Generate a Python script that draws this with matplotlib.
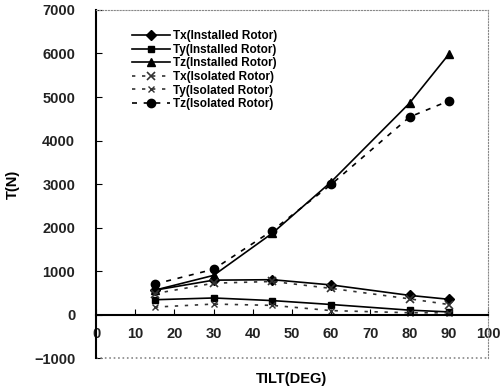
import matplotlib
matplotlib.use("Agg")
import matplotlib.pyplot as plt

tilt = [15, 30, 45, 60, 80, 90]
tx_inst = [560, 790, 800, 680, 440, 350]
ty_inst = [340, 380, 320, 230, 100, 60]
tz_inst = [560, 900, 1870, 3050, 4860, 5980]
tx_iso = [480, 720, 760, 600, 360, 230]
ty_iso = [170, 240, 210, 90, 40, 40]
tz_iso = [700, 1040, 1930, 2990, 4540, 4910]

xticks = [0, 10, 20, 30, 40, 50, 60, 70, 80, 90, 100]
yticks = [-1000, 0, 1000, 2000, 3000, 4000, 5000, 6000, 7000]

plt.rcParams['font.family'] = ['Liberation Sans', 'DejaVu Sans']

fig = plt.figure(figsize=(5.03, 3.92), dpi=100)
ax = fig.add_axes([0.191, 0.0867, 0.779, 0.8878])

ax.plot(tilt, tx_inst, '-', color='black', lw=1.2, marker='D', ms=5, label='Tx(Installed Rotor)')
ax.plot(tilt, ty_inst, '-', color='black', lw=1.2, marker='s', ms=5, label='Ty(Installed Rotor)')
ax.plot(tilt, tz_inst, '-', color='black', lw=1.2, marker='^', ms=6, label='Tz(Installed Rotor)')
ax.plot(tilt, tx_iso, linestyle=(0, (2, 4)), color='#333333', lw=1.2, marker='x', ms=6, mew=1.2, label='Tx(Isolated Rotor)')
ax.plot(tilt, ty_iso, linestyle=(0, (2, 4)), color='#333333', lw=1.2, marker='x', ms=5, mew=1.0, label='Ty(Isolated Rotor)')
ax.plot(tilt, tz_iso, linestyle=(0, (3, 4)), color='black', lw=1.2, marker='o', ms=6, label='Tz(Isolated Rotor)')

ax.set_xlim(0, 100)
ax.set_ylim(-1000, 7000)
ax.set_xticks(xticks)
ax.set_yticks(yticks)
ax.set_xticklabels([str(v) for v in xticks])
ax.set_yticklabels([('\u2212' + str(-v)) if v < 0 else str(v) for v in yticks])

ax.spines['bottom'].set_position(('data', 0))
ax.spines['bottom'].set_linewidth(1.5)
ax.spines['left'].set_linewidth(1.5)
for s in ['top', 'right']:
    ax.spines[s].set_linestyle(':')
    ax.spines[s].set_color('#888888')
    ax.spines[s].set_linewidth(0.8)
ax.axhline(-1000, color='#888888', lw=1.2, ls=':', clip_on=False)

ax.tick_params(axis='x', direction='in', length=4, pad=9, labelsize=10.5)
ax.tick_params(axis='y', direction='in', length=4, pad=15, labelsize=10.5)
for lab in ax.get_xticklabels() + ax.get_yticklabels():
    lab.set_fontweight('bold')
    lab.set_color('#222222')

ax.set_xlabel('TILT(DEG)', fontsize=10.5, fontweight='bold')
ax.set_ylabel('T(N)', fontsize=10.5, fontweight='bold')
ax.xaxis.set_label_coords(0.5, -0.04)
ax.yaxis.set_label_coords(-0.195, 0.5)

leg = ax.legend(loc='upper left', bbox_to_anchor=(0.08, 0.955), frameon=False,
                fontsize=8.5, handlelength=3.2, labelspacing=0.13, handletextpad=0.3,
                borderaxespad=0)
for t in leg.get_texts():
    t.set_fontweight('bold')

fig.savefig('out.png', dpi=100)
